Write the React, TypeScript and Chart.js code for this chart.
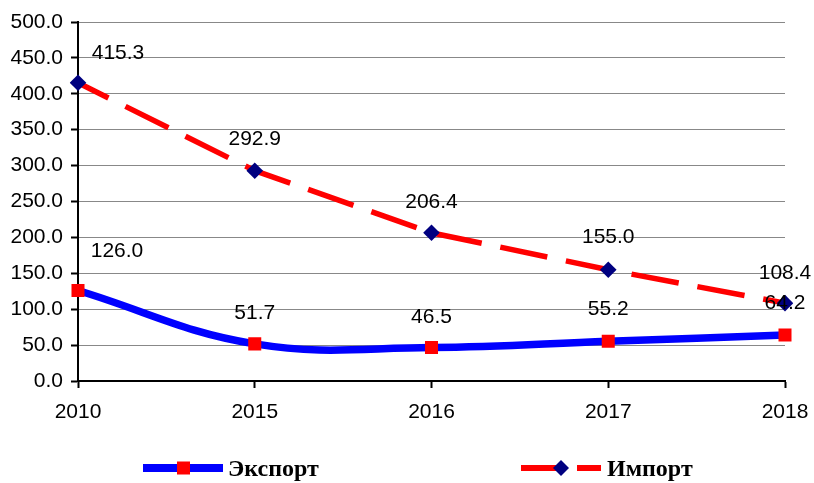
import React, { useEffect, useRef } from "react";
import { Chart, registerables } from "chart.js";

Chart.register(...registerables);

const categories = ["2010", "2015", "2016", "2017", "2018"];
const exportValues = [126.0, 51.7, 46.5, 55.2, 64.2];
const importValues = [415.3, 292.9, 206.4, 155.0, 108.4];
const seriesNames = ["Экспорт", "Импорт"];

// label placement (style, not data): [dx, dy] per point
const exportLabelOffsets = [[39, -40], [0, -32], [0, -31], [0, -33], [0, -33]];
const importLabelOffsets = [[40, -31], [0, -32], [0, -32], [0, -34], [0, -31]];

const AXIS_FONT = "'Liberation Sans', Arial, sans-serif";

const labelPlugin = {
  id: "valueLabels",
  afterDatasetsDraw(chart: any) {
    const ctx = chart.ctx;
    ctx.save();
    ctx.font = `21px ${AXIS_FONT}`;
    ctx.fillStyle = "#000";
    ctx.textAlign = "center";
    ctx.textBaseline = "middle";
    chart.data.datasets.forEach((ds: any, di: number) => {
      const meta = chart.getDatasetMeta(di);
      const offs = ds.labelOffsets || [];
      meta.data.forEach((pt: any, i: number) => {
        const o = offs[i] || [0, -32];
        ctx.fillText(Number(ds.data[i]).toFixed(1), pt.x + o[0], pt.y + o[1] + 1);
      });
    });
    ctx.restore();
  },
};

const legendPlugin = {
  id: "customLegend",
  afterDraw(chart: any) {
    const ctx = chart.ctx;
    const y = 468;
    ctx.save();
    // Export
    ctx.strokeStyle = "#0000ff";
    ctx.lineWidth = 8;
    ctx.setLineDash([]);
    ctx.beginPath();
    ctx.moveTo(143, y);
    ctx.lineTo(223, y);
    ctx.stroke();
    ctx.fillStyle = "#ff0000";
    ctx.fillRect(177, y - 6.5, 13, 13);
    // Import
    ctx.strokeStyle = "#ff0000";
    ctx.lineWidth = 6;
    ctx.beginPath();
    ctx.moveTo(521, y);
    ctx.lineTo(557, y);
    ctx.moveTo(577, y);
    ctx.lineTo(601, y);
    ctx.stroke();
    ctx.fillStyle = "#000080";
    ctx.beginPath();
    ctx.moveTo(561, y - 8);
    ctx.lineTo(569, y);
    ctx.lineTo(561, y + 8);
    ctx.lineTo(553, y);
    ctx.closePath();
    ctx.fill();
    ctx.fillStyle = "#000";
    ctx.font = "bold 24px 'Liberation Serif', 'Times New Roman', serif";
    ctx.textAlign = "left";
    ctx.textBaseline = "middle";
    ctx.fillText(chart.data.datasets[0].label, 228, y + 2);
    ctx.fillText(chart.data.datasets[1].label, 607, y + 2);
    ctx.restore();
  },
};

export default function App() {
  const canvasRef = useRef<HTMLCanvasElement>(null);

  useEffect(() => {
    if (!canvasRef.current) return;
    const chart = new Chart(canvasRef.current, {
      type: "line",
      data: {
        labels: categories,
        datasets: [
          {
            label: seriesNames[0],
            data: exportValues,
            borderColor: "#0000ff",
            borderWidth: 7.5,
            tension: 0.4,
            pointStyle: "rect",
            pointRadius: 9.2,
            pointBackgroundColor: "#ff0000",
            pointBorderColor: "#ff0000",
            pointBorderWidth: 0,
            labelOffsets: exportLabelOffsets,
          } as any,
          {
            label: seriesNames[1],
            data: importValues,
            borderColor: "#ff0000",
            borderWidth: 5.5,
            borderDash: [48, 19],
            borderDashOffset: 14,
            tension: 0,
            pointStyle: "rectRot",
            pointRadius: 8.3,
            pointBackgroundColor: "#000080",
            pointBorderColor: "#000080",
            pointBorderWidth: 0,
            labelOffsets: importLabelOffsets,
          } as any,
        ],
      },
      options: {
        animation: false,
        responsive: false,
        maintainAspectRatio: false,
        layout: { padding: { top: 22, right: 29, bottom: 60, left: 0 } },
        plugins: {
          legend: { display: false },
          tooltip: { enabled: false },
        },
        scales: {
          x: {
            offset: false,
            grid: {
              drawOnChartArea: false,
              drawTicks: true,
              tickLength: 7,
              tickColor: "#000",
              tickWidth: 2,
            },
            border: { color: "#000", width: 2 },
            ticks: {
              color: "#000",
              font: { family: AXIS_FONT, size: 21 },
              padding: 12,
              maxRotation: 0,
            },
            afterFit: (s: any) => {
              s.height = 42;
              s.paddingLeft = 0;
              s.paddingRight = 0;
            },
          },
          y: {
            min: 0,
            max: 500,
            ticks: {
              stepSize: 50,
              color: "#000",
              font: { family: AXIS_FONT, size: 21 },
              padding: 8,
              callback: (v: any) => Number(v).toFixed(1),
            },
            grid: {
              color: "#888",
              lineWidth: 1,
              borderDash: [2, 1],
              tickColor: "#000",
              tickWidth: 2,
              tickLength: 7,
              tickBorderDash: [],
            },
            border: { color: "#000", width: 2 },
            afterFit: (s: any) => {
              s.width = 78;
              s.paddingTop = 0;
              s.paddingBottom = 0;
            },
          },
        },
      },
      plugins: [labelPlugin, legendPlugin],
    });
    return () => chart.destroy();
  }, []);

  return (
    <div style={{ position: "fixed", left: 0, top: 0, width: 814, height: 483, background: "#fff" }}>
      <canvas ref={canvasRef} width={814} height={483} style={{ width: 814, height: 483 }} />
    </div>
  );
}
